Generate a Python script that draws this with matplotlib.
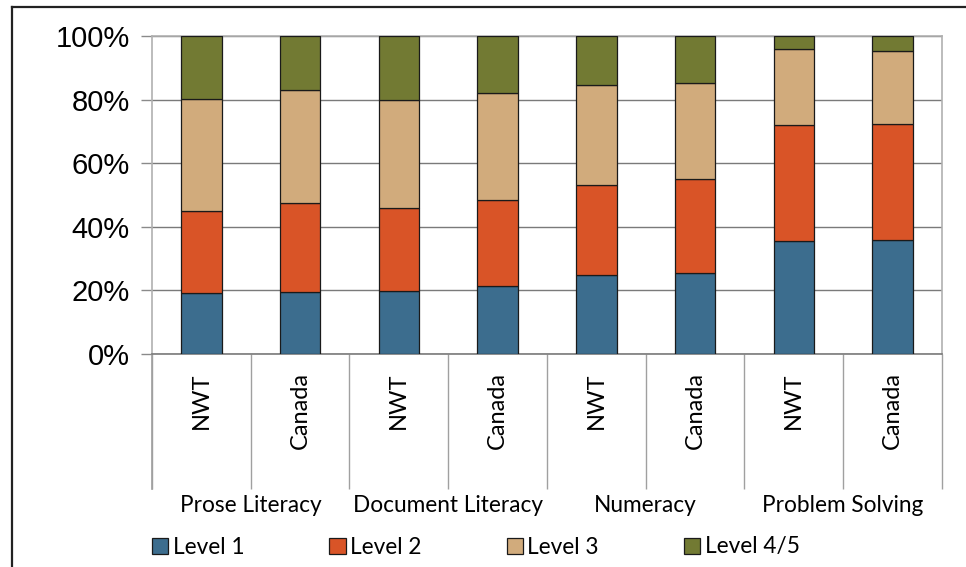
import matplotlib
matplotlib.use('Agg')
import matplotlib.pyplot as plt
import matplotlib.transforms as mtransforms
from matplotlib.lines import Line2D
from matplotlib.ticker import FixedLocator, PercentFormatter
import numpy as np

# Share of adults at each literacy level, in percent
regions = ['NWT', 'Canada'] * 4
domains = ['Prose Literacy', 'Document Literacy', 'Numeracy', 'Problem Solving']
level_names = ['Level 1', 'Level 2', 'Level 3', 'Level 4/5']
level1 = [19.2, 19.6, 19.9, 21.4, 24.9, 25.5, 35.6, 35.8]
level2 = [25.7, 27.9, 26.1, 27.1, 28.1, 29.6, 36.3, 36.4]
level3 = [35.2, 35.5, 33.8, 33.6, 31.6, 30.2, 24.1, 23.1]
level45 = [19.9, 17.0, 20.2, 17.9, 15.4, 14.7, 4.0, 4.7]
colors = ['#3c6d8e', '#d95427', '#d1ab7c', '#727a33']

label_font = 'Lato'

fig = plt.figure(figsize=(9.66, 5.67), dpi=100)
ax = fig.add_axes([0.1574, 0.3757, 0.8176, 0.5608])

x = np.arange(len(regions))
bottom = np.zeros(len(regions))
for vals, name, col in zip([level1, level2, level3, level45], level_names, colors):
    ax.bar(x, vals, width=0.41, bottom=bottom, color=col, edgecolor='#1a1a1a',
           linewidth=0.9, label=name, zorder=3)
    bottom += np.array(vals)

ax.set_ylim(0, 100)
ax.set_xlim(-0.5, len(regions) - 0.5)
ax.yaxis.set_major_locator(FixedLocator([0, 20, 40, 60, 80, 100]))
ax.yaxis.set_major_formatter(PercentFormatter(decimals=0))
ax.grid(axis='y', color='#7a7a7a', linewidth=1.0, zorder=0)
ax.tick_params(axis='y', length=8, width=1.0, color='#8a8a8a', pad=8,
               labelsize=21)
for lbl in ax.get_yticklabels():
    lbl.set_fontfamily('Liberation Sans')

for side in ['top', 'right', 'left']:
    ax.spines[side].set_color('#b0b0b0')
    ax.spines[side].set_linewidth(1.2)
ax.spines['bottom'].set_color('#7a7a7a')
ax.spines['bottom'].set_linewidth(1.2)

# category labels, rotated, and long minor ticks as separators
ax.set_xticks(x)
ax.set_xticklabels(regions, rotation=90, va='top', fontsize=17,
                   fontfamily=label_font)
ax.tick_params(axis='x', which='major', length=0, pad=13)
ax.set_xticks(np.arange(len(regions) + 1) - 0.5, minor=True)
ax.tick_params(axis='x', which='minor', length=97, width=1.0, color='#a0a0a0')

# left spine continues down to the separators
trans = mtransforms.blended_transform_factory(ax.transData, ax.transAxes)
ax.plot([-0.5, -0.5], [0, -0.425], transform=trans, color='#a0a0a0',
        linewidth=1.2, clip_on=False)

# domain labels under each pair of bars
for i, dom in enumerate(domains):
    ax.text(2 * i + 0.5, -0.475, dom, transform=trans, ha='center',
            va='center', fontsize=16.3, fontfamily=label_font)

handles = [plt.Rectangle((0, 0), 1, 1, facecolor=c, edgecolor='#1a1a1a',
                         linewidth=0.9) for c in colors]
fig.legend(handles, level_names, loc='center left',
           bbox_to_anchor=(152 / 966, 1 - 547 / 567), ncol=4, frameon=False,
           prop={'family': label_font, 'size': 16.3}, handlelength=0.72,
           handleheight=0.72, handletextpad=0.2, columnspacing=3.75,
           borderaxespad=0, borderpad=0)

# outer frame (left and top edges)
fig.add_artist(Line2D([12 / 966, 12 / 966], [0, 1 - 7 / 567],
                      transform=fig.transFigure, color='#222222', linewidth=1.6))
fig.add_artist(Line2D([12 / 966, 1], [1 - 7 / 567, 1 - 7 / 567],
                      transform=fig.transFigure, color='#222222', linewidth=1.6))

fig.savefig('out.png', dpi=100)
